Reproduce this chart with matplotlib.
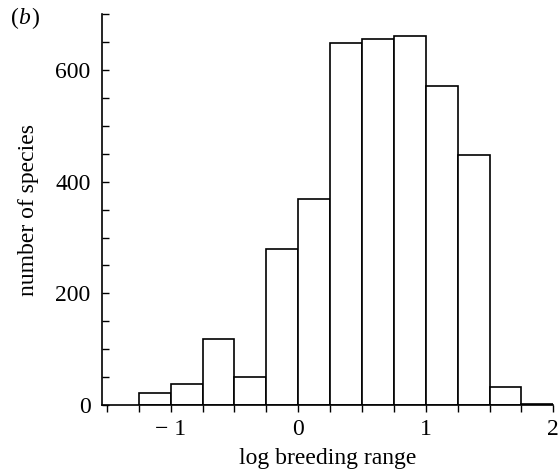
import matplotlib.pyplot as plt
import numpy as np
from matplotlib.ticker import MultipleLocator

# bin edges of the histogram (log breeding range) and species counts
bin_edges = [-1.25, -1.0, -0.75, -0.5, -0.25, 0.0, 0.25, 0.5, 0.75, 1.0, 1.25, 1.5, 1.75, 2.0]
counts = [22, 37, 118, 51, 279, 369, 648, 655, 660, 572, 448, 33, 2]

plt.rcParams["font.family"] = ["Liberation Serif", "DejaVu Serif"]
FS = 17

fig = plt.figure(figsize=(5.58, 4.71), dpi=100)
ax = fig.add_axes([0.1823, 0.140, 0.8093, 0.830])

lefts = np.array(bin_edges[:-1])
widths = np.diff(bin_edges)
ax.bar(lefts, counts, width=widths, align="edge", color="white",
       edgecolor="black", linewidth=1.2)

ax.set_xlim(-1.54, 2.0)
ax.set_ylim(0, 700)

ax.xaxis.set_minor_locator(MultipleLocator(0.25))
ax.yaxis.set_major_locator(MultipleLocator(200))
ax.yaxis.set_minor_locator(MultipleLocator(50))
ax.set_xticks([-1, 0, 1, 2])
ax.set_xticklabels(["\u2212 1", "0", "1", "2"])

ax.tick_params(axis="x", which="both", direction="out", length=5, width=1,
               labelsize=FS, pad=5)
ax.tick_params(axis="y", which="both", direction="in", length=5, width=1,
               labelsize=FS, pad=8)

for side in ("top", "right"):
    ax.spines[side].set_visible(False)
for side in ("left", "bottom"):
    ax.spines[side].set_linewidth(1.2)

ax.set_xlabel("log breeding range", fontsize=FS, labelpad=6)
ax.set_ylabel("number of species", fontsize=FS, labelpad=12)

fig.text(0.02, 0.948, "(", fontsize=FS)
fig.text(0.033, 0.948, "b", fontsize=FS, style="italic")
fig.text(0.056, 0.948, ")", fontsize=FS)

fig.savefig("out.png", dpi=100, facecolor="white")
